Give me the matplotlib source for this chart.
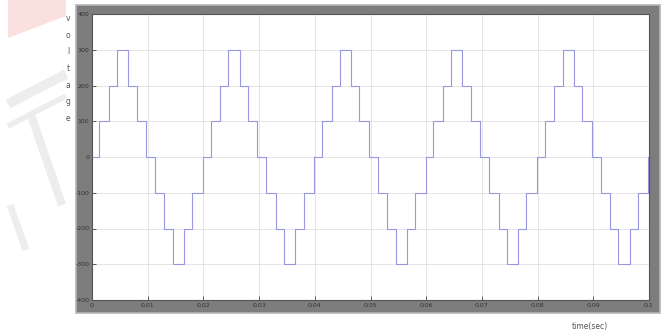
import numpy as np
import matplotlib
matplotlib.use("Agg")
import matplotlib.pyplot as plt
from matplotlib.patches import Rectangle, Polygon
from matplotlib.lines import Line2D

# one period of the 7-level staircase
step_times = [0.0, 0.0013, 0.0030, 0.0045, 0.0065, 0.0080, 0.0097,
              0.0113, 0.0130, 0.0145, 0.0165, 0.0180, 0.0199]
step_levels = [0, 100, 200, 300, 200, 100, 0, -100, -200, -300, -200, -100, 0]
period = 0.02
n_cycles = 5
t_end = 0.1

x_ticks = [0, 0.01, 0.02, 0.03, 0.04, 0.05, 0.06, 0.07, 0.08, 0.09, 0.1]
x_labels = ["0", "0.01", "0.02", "0.03", "0.04", "0.05", "0.06", "0.07", "0.08", "0.09", "0.1"]
y_ticks = [-400, -300, -200, -100, 0, 100, 200, 300, 400]
y_labels = ["-400", "-300", "-200", "-100", "0", "100", "200", "300", "400"]

W, H = 665, 336


def px(x, y):
    # pixel position (from top-left) -> figure fraction
    return x / W, 1 - y / H


fig = plt.figure(figsize=(W / 100, H / 100), dpi=100)

# faint watermark on the left
fig.add_artist(Polygon([px(8, 0), px(66, 0), px(66, 16), px(8, 38)], closed=True,
                       transform=fig.transFigure, facecolor="#fbe0e0", edgecolor="none", zorder=0))
for (x0, y0), (x1, y1), lw in [((8, 104), (66, 74), 7), ((8, 126), (66, 96), 4),
                               ((30, 112), (62, 205), 6), ((10, 205), (26, 250), 5)]:
    a, b = px(x0, y0)
    c, d = px(x1, y1)
    fig.add_artist(Line2D([a, c], [b, d], transform=fig.transFigure,
                          color="#ededed", lw=lw, solid_capstyle="butt", zorder=0))

# gray scope frame
fx, fy = px(76, 313)
fig.add_artist(Rectangle((fx, fy), 584 / W, 308 / H, transform=fig.transFigure,
                         facecolor="#7d7d7d", edgecolor="#b5b5b5", lw=1.2, zorder=1))

l, b = px(92, 300)
ax = fig.add_axes([l, b, 557 / W, 286 / H])
ax.set_zorder(2)
ax.set_facecolor("white")

t = []
v = []
for k in range(n_cycles):
    for st, lv in zip(step_times, step_levels):
        t.append(st + k * period)
        v.append(lv)
t.append(t_end)
v.append(v[-1])
ax.step(t, v, where="post", color="#9898e2", lw=0.8)

ax.set_xlim(0, t_end)
ax.set_ylim(-400, 400)
ax.set_xticks(x_ticks)
ax.set_xticklabels(x_labels)
ax.set_yticks(y_ticks)
ax.set_yticklabels(y_labels)
ax.grid(True, color="#e0e0e0", lw=0.6)
ax.tick_params(direction="in", length=3, width=0.6, labelsize=4.5,
               labelcolor="#333333", color="#444444", pad=2)
for s in ax.spines.values():
    s.set_color("#555555")
    s.set_linewidth(0.8)

fig.text(68 / W, 1 - 14 / H, "\n".join("voltage"), ha="center", va="top",
         fontsize=5.5, color="#555555", linespacing=2.1)
fig.text(590 / W, 1 - 326 / H, "time(sec)", ha="center", va="center",
         fontsize=5.5, color="#555555")

fig.savefig("out.png", dpi=100)
